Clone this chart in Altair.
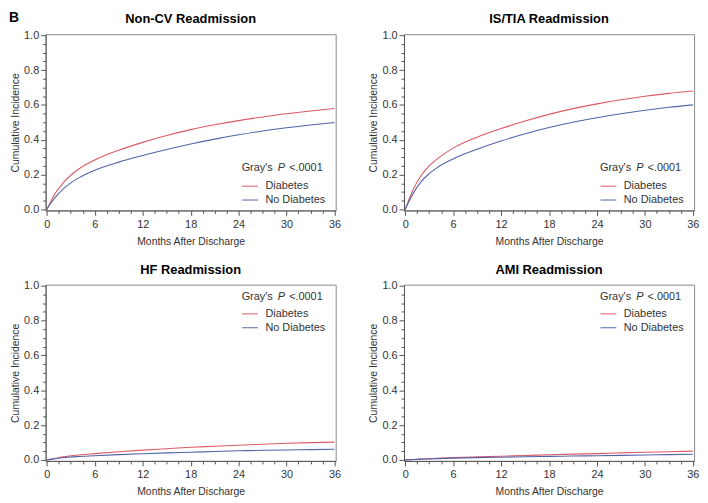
import altair as alt
import pandas as pd

months = [0, 0.5, 1, 2, 3, 4, 6, 9, 12, 15, 18, 21, 24, 27, 30, 33, 36]
groups = ["Diabetes", "No Diabetes"]
colors = ["#dc5a66", "#5464a8"]
titles = ["Non-CV Readmission", "IS/TIA Readmission", "HF Readmission", "AMI Readmission"]

noncv_diab = [0, 0.046, 0.088, 0.150, 0.196, 0.232, 0.284, 0.340, 0.385, 0.424, 0.458, 0.486, 0.510, 0.531, 0.549, 0.565, 0.579]
noncv_nodiab = [0, 0.035, 0.066, 0.115, 0.152, 0.181, 0.225, 0.2715, 0.3096, 0.3441, 0.3756, 0.4035, 0.4284, 0.4503, 0.4692, 0.4851, 0.4986]

istia_diab = [0, 0.060, 0.115, 0.195, 0.250, 0.290, 0.352, 0.415, 0.464, 0.5075, 0.5456, 0.5786, 0.6062, 0.6296, 0.6497, 0.6662, 0.6797]
istia_nodiab = [0, 0.048, 0.092, 0.160, 0.205, 0.240, 0.290, 0.3455, 0.3926, 0.4346, 0.4706, 0.5006, 0.5261, 0.5492, 0.5693, 0.5864, 0.6005]

hf_diab = [0, 0.004, 0.008, 0.017, 0.023, 0.028, 0.036, 0.047, 0.056, 0.064, 0.072, 0.078, 0.084, 0.09, 0.095, 0.099, 0.102]
hf_nodiab = [0, 0.003, 0.006, 0.012, 0.016, 0.019, 0.024, 0.030, 0.035, 0.040, 0.044, 0.048, 0.052, 0.055, 0.057, 0.059, 0.061]

ami_diab = [0, 0.001, 0.002, 0.005, 0.007, 0.009, 0.013, 0.017, 0.021, 0.025, 0.029, 0.033, 0.036, 0.040, 0.044, 0.047, 0.050]
ami_nodiab = [0, 0.001, 0.002, 0.004, 0.005, 0.007, 0.010, 0.013, 0.015, 0.018, 0.020, 0.022, 0.024, 0.026, 0.028, 0.030, 0.032]

x_ticks = [i * 1.5 for i in range(25)]
y_ticks = [round(i * 0.05, 2) for i in range(21)]

FONT = "Liberation Sans"
W = 293
H = 178


def text_layer(label, x, y, **kw):
    return alt.Chart(pd.DataFrame({"t": [label]})).mark_text(**kw).encode(
        x=alt.value(x), y=alt.value(y), text="t:N"
    )


def panel(title, diab, nodiab, legend_top, show_b=False):
    df = pd.DataFrame({
        "Month": months + months,
        "Incidence": diab + nodiab,
        "Group": [groups[0]] * len(months) + [groups[1]] * len(months),
    })
    if legend_top:
        gy, ly = 12, 21
    else:
        gy, ly = 135.5, 145
    gx = W - 95

    x = alt.X(
        "Month:Q",
        scale=alt.Scale(domain=[-0.15, 36.15], nice=False, zero=False),
        axis=alt.Axis(
            values=x_ticks,
            labelExpr="datum.value % 6 === 0 ? datum.label : ''",
            tickSize={"condition": {"test": "datum.value % 6 === 0", "value": 5}, "value": 3},
            title="Months After Discharge",
            labelOverlap=False,
            labelFlush=False,
            grid=False,
        ),
    )
    y = alt.Y(
        "Incidence:Q",
        scale=alt.Scale(domain=[-0.006, 1.006], nice=False, zero=False),
        axis=alt.Axis(
            values=y_ticks,
            labelExpr="round(datum.value * 100) % 20 === 0 ? format(datum.value, '.1f') : ''",
            tickSize={"condition": {"test": "round(datum.value * 100) % 20 === 0", "value": 5}, "value": 3},
            title="Cumulative Incidence",
            labelOverlap=False,
            labelFlush=False,
            grid=False,
            labelPadding=2,
            titlePadding=3,
        ),
    )
    lines = alt.Chart(df).mark_line(interpolate="monotone", strokeWidth=1.1).encode(
        x=x,
        y=y,
        color=alt.Color(
            "Group:N",
            scale=alt.Scale(domain=groups, range=colors),
            legend=alt.Legend(
                orient="none", legendX=gx, legendY=ly, title=None,
                symbolType="stroke", symbolSize=256, symbolStrokeWidth=1,
                labelFont=FONT, labelFontSize=11, labelColor="#333",
                labelOffset=7, rowPadding=-4, padding=0,
            ),
        ),
    )
    common = dict(align="left", baseline="middle", font=FONT, fontSize=11, color="#333")
    layers = [
        lines,
        text_layer("Gray's", gx, gy, **common),
        text_layer("P", gx + 36.5, gy, fontStyle="italic", **common),
        text_layer("<.0001", gx + 48, gy, **common),
        text_layer(title, W / 2, -11, align="center", baseline="alphabetic", font=FONT,
                   fontSize=13, fontWeight="bold", color="#000"),
    ]
    if show_b:
        layers.append(text_layer("B", -37, -12, align="left", baseline="alphabetic", font=FONT,
                                 fontSize=14, fontWeight="bold", color="#000"))
    return alt.layer(*layers).properties(width=W, height=H)


top = alt.hconcat(
    panel(titles[0], noncv_diab, noncv_nodiab, False, show_b=True),
    panel(titles[1], istia_diab, istia_nodiab, False),
    spacing=27,
).resolve_scale(color="independent").resolve_legend(color="independent")
bottom = alt.hconcat(
    panel(titles[2], hf_diab, hf_nodiab, True),
    panel(titles[3], ami_diab, ami_nodiab, True),
    spacing=27,
).resolve_scale(color="independent").resolve_legend(color="independent")

chart = alt.vconcat(top, bottom, spacing=16).resolve_scale(color="independent").resolve_legend(
    color="independent"
).properties(padding=0).configure_view(stroke="#8a8a8a", strokeWidth=1).configure_axis(
    domainColor="#555", tickColor="#555", labelColor="#333", titleColor="#333",
    labelFont=FONT, titleFont=FONT, labelFontSize=11, titleFontSize=10.5,
    titleFontWeight="normal", labelPadding=3, titlePadding=5,
).configure_axisX(titlePadding=7)

chart.save("out.html", embed_options={"renderer": "svg", "actions": False})
